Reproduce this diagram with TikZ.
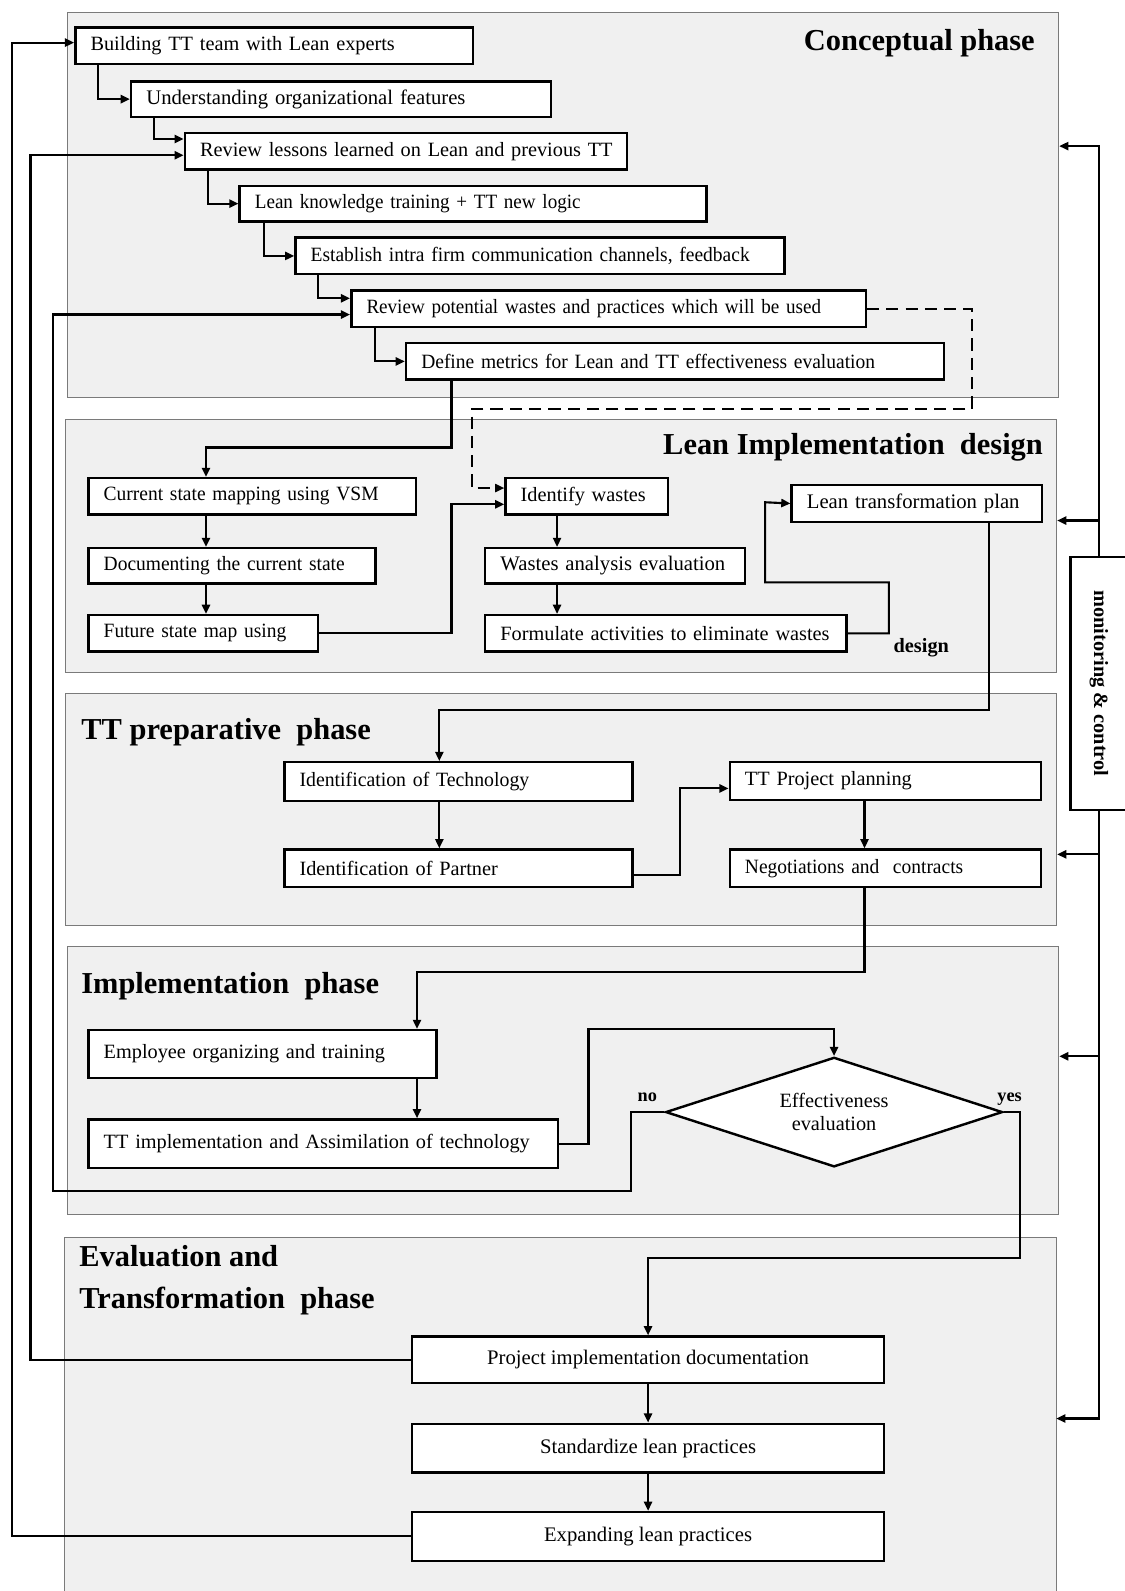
\documentclass[tikz,border=0pt]{standalone}
\usepackage{fontspec}
\usepackage{graphicx}
\setmainfont{Liberation Serif}
\newfontfamily\narrowA{Liberation Serif}[FakeStretch=0.94]
\newfontfamily\narrowB{Liberation Serif}[FakeStretch=0.96]
\newfontfamily\narrowC{Liberation Serif}[FakeStretch=0.975]
\usetikzlibrary{arrows.meta,shapes.geometric}

\definecolor{panelfill}{HTML}{F0F0F0}
\definecolor{panelline}{HTML}{7A7A7A}

\tikzset{
  x=1pt, y=-1pt,
  panel/.style={draw=panelline, line width=0.9pt, fill=panelfill, anchor=north west, inner sep=0pt},
  phase/.style={font=\bfseries\fontsize{30}{36}\selectfont, inner sep=0pt},
  lbl/.style={font=\bfseries\fontsize{20}{24}\selectfont, inner sep=0pt},
  stepbox/.style={draw, line width=2.4pt, fill=white, anchor=north west, inner xsep=15pt, inner ysep=0pt,
    align=left, font=\fontsize{20}{24}\selectfont},
  tightA/.style={font=\narrowA\fontsize{20}{24}\selectfont},
  tightB/.style={font=\narrowB\fontsize{20}{24}\selectfont},
  tightC/.style={font=\narrowC\fontsize{20}{24}\selectfont},
  midbox/.style={draw, line width=2.4pt, fill=white, anchor=north west, inner sep=0pt,
    align=center, font=\fontsize{20.4}{24}\selectfont},
  arr/.style={line width=2.1pt, -{Triangle[length=9pt,width=8pt]}},
  dashline/.style={line width=1.8pt, dash pattern=on 12pt off 7pt, -{Triangle[length=9pt,width=8pt]}},
}

\begin{document}
\begin{tikzpicture}
\useasboundingbox (0,0) rectangle (1108,1568);

% phase panels
\node[panel, minimum width=977pt, minimum height=379pt] (P1) at (66,12) {};
\node[panel, minimum width=977pt, minimum height=249pt] (P2) at (64,413) {};
\node[panel, minimum width=977pt, minimum height=229pt] (P3) at (64,683) {};
\node[panel, minimum width=977pt, minimum height=264pt] (P4) at (66,932) {};
\path[fill=panelfill] (64,1220) rectangle (1041,1570);
\draw[panelline, line width=0.9pt] (64,1575) -- (64,1220) -- (1041,1220) -- (1041,1575);
\coordinate (P5) at (1041,1398);

% phase titles
\node[phase, anchor=base east] (T1) at (1020,50) {Conceptual phase};
\node[phase, anchor=base east] (T2) at (1028,448) {Lean Implementation~ design};
\node[phase, anchor=base west] (T3) at (80,729) {TT preparative~ phase};
\node[phase, anchor=base west] (T4) at (80,979) {Implementation~ phase};
\node[phase, anchor=base west] (T5a) at (78,1248) {Evaluation and};
\node[phase, anchor=base west] (T5b) at (78,1290) {Transformation~ phase};

% conceptual phase
\node[stepbox, minimum height=36pt, text width=362pt] (B1) at (73,26) {Building TT team with Lean experts};
\node[stepbox, minimum height=35pt, text width=384pt, font=\fontsize{20.4}{24}\selectfont] (B2) at (128,79) {Understanding organizational features};
\node[stepbox, minimum height=36pt, text width=406pt] (B3) at (181,130) {\mbox{Review lessons learned on Lean and previous TT}};
\node[stepbox, tightA, minimum height=35pt, text width=430pt] (B4) at (235,182) {Lean knowledge training + TT new logic};
\node[stepbox, tightB, minimum height=36pt, text width=452pt] (B5) at (290,233) {\mbox{Establish intra firm communication channels, feedback}};
\node[stepbox, tightA, minimum height=36pt, text width=477pt] (B6) at (345,285) {\mbox{Review potential wastes and practices which will be used}};
\node[stepbox, tightB, minimum height=36pt, text width=500pt] (B7) at (399,337) {\mbox{Define metrics for Lean and TT effectiveness evaluation}};

% lean implementation design
\node[stepbox, tightB, minimum height=36pt, text width=293pt] (C1) at (86,470) {Current state mapping using VSM};
\node[stepbox, tightB, minimum height=35pt, text width=253pt] (C2) at (86,539) {Documenting the current state};
\node[stepbox, tightB, minimum height=36pt, text width=196pt] (C3) at (86,605) {Future state map using};
\node[stepbox, minimum height=36pt, text width=130pt] (W1) at (497,470) {Identify wastes};
\node[stepbox, minimum height=35pt, text width=226pt, font=\fontsize{20.4}{24}\selectfont] (W2) at (477,539) {Wastes analysis evaluation};
\node[stepbox, minimum height=36pt, text width=326pt] (W3) at (477,605) {\mbox{Formulate activities to eliminate wastes}};
\node[stepbox, minimum height=36pt, text width=217pt, font=\fontsize{20.4}{24}\selectfont] (L1) at (779,477) {Lean transformation plan};
\node[lbl, anchor=base] (DL) at (908,643) {design};

% TT preparative phase
\node[stepbox, tightC, minimum height=38pt, text width=313pt] (I1) at (279,750) {Identification of Technology};
\node[stepbox, minimum height=37pt, text width=313pt] (I2) at (279,836) {Identification of Partner};
\node[stepbox, minimum height=37pt, text width=277pt] (Q1) at (718,750) {TT Project planning};
\node[stepbox, tightB, minimum height=37pt, text width=277pt] (Q2) at (718,836) {Negotiations and~ contracts};

% implementation phase
\node[stepbox, minimum height=47pt, text width=313pt] (E1) at (86,1014) {Employee organizing and training};
\node[stepbox, minimum height=48pt, text width=433pt] (E2) at (86,1102) {\mbox{TT implementation and Assimilation of technology}};
\node[diamond, draw, line width=2.4pt, fill=white, minimum width=332pt, minimum height=108pt,
  aspect=3, inner sep=0pt, align=center, font=\fontsize{20}{22}\selectfont] (D) at (822,1096) {Effectiveness\\evaluation};
\node[lbl, anchor=base, font=\bfseries\fontsize{18}{22}\selectfont] (NO) at (638,1086) {no};
\node[lbl, anchor=base, font=\bfseries\fontsize{18}{22}\selectfont] (YES) at (995,1086) {yes};

% evaluation and transformation phase
\node[midbox, minimum width=465pt, minimum height=46pt] (PI) at (405,1316) {Project implementation documentation};
\node[midbox, minimum width=465pt, minimum height=48pt] (S) at (405,1402) {Standardize lean practices};
\node[midbox, minimum width=465pt, minimum height=48pt] (X) at (405,1489) {Expanding lean practices};

% monitoring and control
\node[draw, line width=2pt, fill=white, anchor=north west, minimum width=56pt, minimum height=249pt, inner sep=0pt]
  (M) at (1054,548) {\rotatebox{-90}{\bfseries\fontsize{20}{24}\selectfont monitoring \& control}};

% conceptual cascade
\draw[arr] (97,0 |- B1.south) |- (B2.west);
\draw[arr] (152,0 |- B2.south) |- (B3.west |- 0,137);
\draw[arr] (205,0 |- B3.south) |- (B4.west);
\draw[arr] (260,0 |- B4.south) |- (B5.west);
\draw[arr] (313,0 |- B5.south) |- (B6.west |- 0,294);
\draw[arr] (370,0 |- B6.south) |- (B7.west);
\draw[arr] (445,0 |- B7.south) -- (445,441) -| (203,0 |- C1.north);

% design flows
\draw[arr] (203,0 |- C1.south) -- (203,0 |- C2.north);
\draw[arr] (203,0 |- C2.south) -- (203,0 |- C3.north);
\draw[arr] (C3.east) -| (445,497) -- (W1.west |- 0,497);
\draw[dashline] (B6.east) -| (958,403) -| (465,481) -- (W1.west |- 0,481);
\draw[arr] (549,0 |- W1.south) -- (549,0 |- W2.north);
\draw[arr] (549,0 |- W2.south) -- (549,0 |- W3.north);
\draw[arr] (W3.east) -| (876,574) -| (754,495) -- (L1.west);
\draw[arr] (975,0 |- L1.south) -- (975,700) -| (433,0 |- I1.north);

% preparative flows
\draw[arr] (433,0 |- I1.south) -- (433,0 |- I2.north);
\draw[arr] (I2.east |- 0,862) -| (670,777) -- (Q1.west |- 0,777);
\draw[arr] (852,0 |- Q1.south) -- (852,0 |- Q2.north);
\draw[arr] (852,0 |- Q2.south) -- (852,958) -| (411,0 |- E1.north);

% implementation flows
\draw[arr] (411,0 |- E1.south) -- (411,0 |- E2.north);
\draw[arr] (E2.east) -| (580,1014) -| (D.north);
\draw[arr] (D.west) -| (622,1174) -- (52,1174) |- (B6.west |- 0,310);
\draw[arr] (D.east) -| (1005,1240) -| (PI.north);

% evaluation flows
\draw[arr] (PI.south) -- (S.north);
\draw[arr] (S.south) -- (X.north);
\draw[arr] (PI.west) -| (30,153) -- (B3.west |- 0,153);
\draw[arr] (X.west) -| (12,42) -- (B1.west |- 0,42);

% monitoring feedback
\draw[arr] (M.north) |- (P1.east |- 0,144);
\draw[arr] (M.north) |- (P2.east |- 0,513);
\draw[arr] (M.south) |- (P3.east |- 0,842);
\draw[arr] (M.south) |- (P4.east |- 0,1041);
\draw[arr] (M.south) |- (P5 |- 0,1398);
\end{tikzpicture}
\end{document}
